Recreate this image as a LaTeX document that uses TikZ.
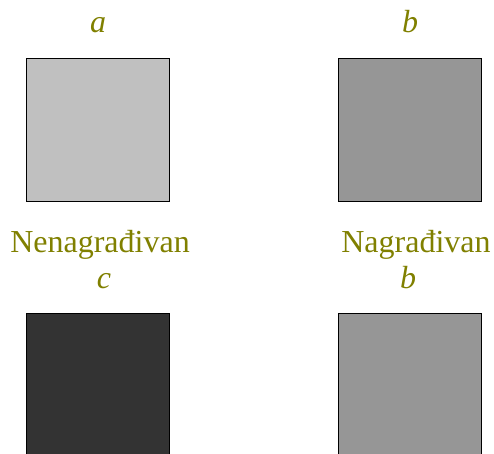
\documentclass[tikz,border=0pt]{standalone}
\usepackage{fontspec}
\setmainfont{Liberation Serif}
\usepackage{xcolor}
\usetikzlibrary{positioning}
\definecolor{lblolive}{HTML}{808000}
\definecolor{sqlight}{HTML}{C0C0C0}
\definecolor{sqmid}{HTML}{969696}
\definecolor{sqdark}{HTML}{333333}

\begin{document}
\begin{tikzpicture}[
    x=1pt,y=-1pt,
    sq/.style  = {rectangle,draw=black,line width=1.6pt,minimum size=143pt,
                  inner sep=0pt},
    lbl/.style = {font=\fontsize{32}{38}\selectfont,text=lblolive,anchor=base,
                  inner sep=0pt},
    let/.style = {lbl,font=\fontsize{32}{38}\selectfont\itshape},
  ]
  \useasboundingbox (0,0) rectangle (494,453);
  \clip (0,0) rectangle (494,453);

  \node[sq,fill=sqlight] (sa) at (98,130) {};
  \node[sq,fill=sqmid]   (sb) at (410,130) {};
  \node[sq,fill=sqdark]  (sc) at (98,385) {};
  \node[sq,fill=sqmid]   (sd) at (410,385) {};

  \node[let] (la) at (98,32) {a};
  \node[let] (lb) at (410,32) {b};
  \node[lbl] (nn) at (100,252) {Nenagrađivan};
  \node[lbl] (ng) at (416,252) {Nagrađivan};
  \node[let] (lc) at (104,288) {c};
  \node[let] (ld) at (408,288) {b};

\end{tikzpicture}
\end{document}
